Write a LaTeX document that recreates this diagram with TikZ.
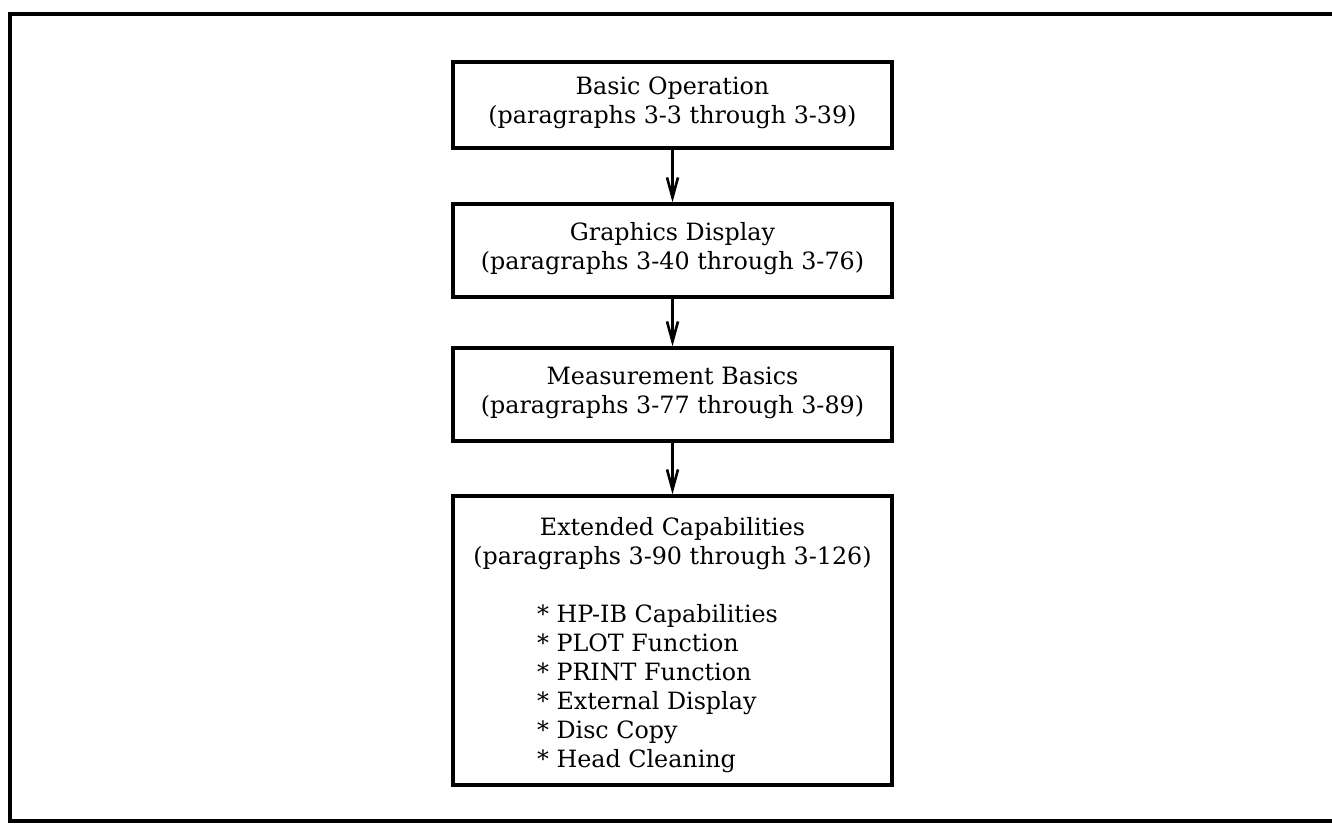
\documentclass[tikz,border=0pt]{standalone}
\usepackage{fontspec}
\setmainfont{DejaVu Serif}
\usetikzlibrary{arrows.meta}
\begin{document}
\begin{tikzpicture}[x=1pt,y=-1pt,
  box/.style={draw, line width=3.3pt, minimum width=439pt, align=center, inner sep=0pt,
    font=\fontsize{23.8}{29}\selectfont},
  link/.style={line width=2.6pt, -{Straight Barb[length=20pt,width=11pt,line width=2.6pt]}},
  frame/.style={line width=4pt}]
\useasboundingbox (0,0) rectangle (1332,824);
\draw[frame] (1336,14) -- (10,14) -- (10,821) -- (1336,821);
\node[box, minimum height=86pt] (a) at (672.5,105)
  {Basic Operation\\(paragraphs 3-3 through 3-39)\rule[-9pt]{0pt}{9pt}};
\node[box, minimum height=93pt] (b) at (672.5,250.5)
  {Graphics Display\\(paragraphs 3-40 through 3-76)\rule[-9pt]{0pt}{9pt}};
\node[box, minimum height=93pt] (c) at (672.5,394.5)
  {Measurement Basics\\(paragraphs 3-77 through 3-89)\rule[-9pt]{0pt}{9pt}};
\node[box, minimum height=289pt] (d) at (672.5,640.5)
  {\rule{0pt}{30pt}Extended Capabilities\\(paragraphs 3-90 through 3-126)\\[29pt]
   \begin{tabular}[t]{@{}l@{}}
   {*} HP-IB Capabilities\\
   {*} PLOT Function\\
   {*} PRINT Function\\
   {*} External Display\\
   {*} Disc Copy\\
   {*} Head Cleaning
   \end{tabular}\hspace*{30pt}};
\draw[link] (a.south) -- (b.north);
\draw[link] (b.south) -- (c.north);
\draw[link] (c.south) -- (d.north);
\end{tikzpicture}
\end{document}
